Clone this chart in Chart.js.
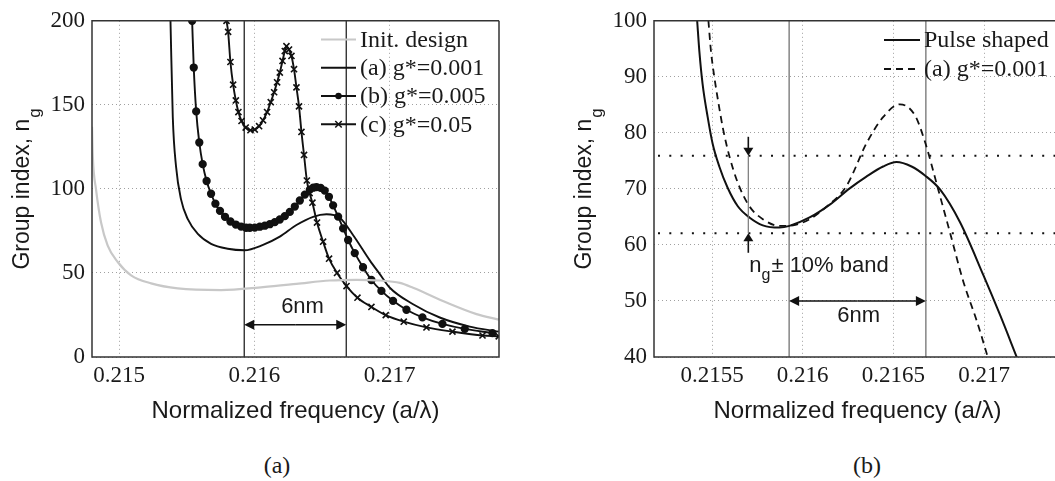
<!DOCTYPE html>
<html>
<head>
<meta charset="utf-8">
<script src="https://cdn.jsdelivr.net/npm/chart.js@4/dist/chart.umd.min.js"></script>
<style>
html, body { margin: 0; padding: 0; background: #fff; overflow: hidden; width: 1055px; height: 481px; }
canvas { position: absolute; top: 0; }
#chartA { left: 0; }
#chartB { left: 560px; }
.cap { position: absolute; top: 452px; width: 60px; line-height: 30px; text-align: center;
       font: 24px 'Liberation Serif', 'Times New Roman', serif; color: #1a1a1a; }
</style>
</head>
<body>
<canvas id="chartA" width="510" height="430"></canvas>
<canvas id="chartB" width="501" height="430"></canvas>
<div class="cap" style="left:247px">(a)</div>
<div class="cap" style="left:837px">(b)</div>
<script>
// ---- panel (a) ----
const xTicksA = [0.215, 0.216, 0.217];
const yTicksA = [0, 50, 100, 150, 200];

const initX = [0.2148, 0.214806, 0.21483, 0.214867, 0.214916, 0.21499, 0.215089, 0.215237, 0.215434, 0.215754,
               0.216064, 0.216311, 0.216557, 0.216755, 0.216927, 0.217075, 0.217173, 0.21742, 0.217642, 0.217806];
const initY = [136.9, 119.2, 99.6, 80.0, 66.3, 56.5, 48.6, 43.8, 40.8, 39.8,
               41.6, 43.5, 45.5, 45.9, 45.5, 44.1, 41.2, 32.4, 25.5, 22.2];

const g001X = [0.21538, 0.215397, 0.215421, 0.215458, 0.215508, 0.215582, 0.21568, 0.215803, 0.215927, 0.216064,
               0.216188, 0.216311, 0.216434, 0.216533, 0.216631, 0.216729, 0.216853, 0.21693, 0.217001, 0.217173,
               0.21737, 0.217592, 0.217806];
const g001Y = [200, 142.8, 113.4, 93.8, 82.0, 73.2, 67.3, 64.4, 63.5, 66.7,
               71.6, 78.5, 83.4, 84.9, 82.8, 72.6, 57.5, 49.0, 41.2, 31.4,
               23.5, 18.1, 15.1];

const g005X = [0.21554, 0.215552, 0.21557, 0.215593, 0.215618, 0.215647, 0.21568, 0.215712, 0.215746, 0.215783,
               0.215823, 0.215863, 0.215902, 0.215939, 0.215966, 0.216003, 0.21604, 0.216077, 0.216114, 0.216151,
               0.216188, 0.216225, 0.216262, 0.216299, 0.216336, 0.216373, 0.21641, 0.216435, 0.216459, 0.21649,
               0.21652, 0.216551, 0.216582, 0.216619, 0.216656, 0.216693, 0.216742, 0.216803, 0.216865, 0.216939,
               0.217025, 0.217124, 0.217242, 0.21739, 0.217555, 0.21776];
const g005Y = [200, 172.2, 146.1, 127.6, 114.7, 104.7, 97.1, 91.2, 86.9, 83.4,
               80.6, 78.8, 77.6, 76.9, 76.9, 77.0, 77.5, 78.1, 79.0, 80.2,
               81.8, 83.8, 86.3, 89.5, 93.1, 96.6, 99.6, 100.7, 101.1, 100.6,
               99.0, 95.3, 90.2, 83.5, 76.5, 69.6, 61.8, 53.4, 45.8, 39.3,
               33.4, 28.1, 23.6, 19.7, 16.7, 14.2];

const g05X = [0.215794, 0.215806, 0.215823, 0.215843, 0.215863, 0.215882, 0.215905, 0.215936, 0.215971, 0.216003,
              0.216035, 0.216064, 0.216094, 0.216121, 0.216146, 0.216168, 0.216188, 0.216208, 0.216225, 0.216237,
              0.216256, 0.216274, 0.216293, 0.216311, 0.21633, 0.216348, 0.216367, 0.216388, 0.216408, 0.216429,
              0.216463, 0.216508, 0.216552, 0.216611, 0.216681, 0.216762, 0.216865, 0.216971, 0.217104, 0.217272,
              0.217464, 0.217686, 0.217806];
const g05Y = [200, 193.4, 175.5, 162.0, 152.6, 145.7, 140.4, 136.5, 134.9, 135.3,
              137.3, 140.8, 145.7, 151.6, 157.5, 163.4, 169.2, 176.1, 182.0, 184.9,
              182.9, 179.1, 171.2, 160.4, 149.1, 133.9, 120.2, 105.0, 97.5, 91.8,
              80.0, 68.6, 58.5, 50.0, 42.2, 35.3, 29.8, 24.9, 21.0, 17.6,
              15.1, 12.8, 12.3];

// ---- panel (b) ----
const xTicksB = [0.2155, 0.216, 0.2165, 0.217];
const yTicksB = [40, 50, 60, 70, 80, 90, 100];

const pulseX = [0.215418, 0.21543, 0.215448, 0.215476, 0.215503, 0.21554, 0.215586, 0.215642, 0.215706, 0.21578,
                0.215872, 0.215927, 0.216038, 0.216149, 0.216259, 0.216351, 0.216443, 0.216517, 0.2166, 0.216674,
                0.216757, 0.216868, 0.216996, 0.217088, 0.217181];
const pulseY = [100, 94.6, 88.7, 82.8, 78.1, 74.0, 70.2, 66.9, 64.9, 63.5,
                63.1, 63.4, 64.9, 67.2, 70.1, 72.2, 74.0, 74.8, 74.0, 72.4,
                69.9, 64.0, 54.6, 47.5, 39.9];

const dashX = [0.21548, 0.215494, 0.215513, 0.215536, 0.215562, 0.215596, 0.215642, 0.215706, 0.21578, 0.215872,
               0.215946, 0.216038, 0.21613, 0.216241, 0.216351, 0.216443, 0.216536, 0.216619, 0.216674, 0.216747,
               0.216812, 0.216886, 0.21696, 0.217024];
const dashY = [100, 94.6, 89.9, 85.2, 80.5, 75.8, 71.1, 66.9, 64.6, 63.4,
               63.5, 64.6, 66.8, 70.5, 78.1, 82.8, 85.1, 83.1, 78.4, 69.9,
               62.2, 53.4, 46.4, 39.6];

// annotations
const bandEdges = [0.215925, 0.216679];   // 6nm window
const widthArrowY = [19.2, 50];           // y of the 6nm arrow in (a), (b)
const widthLabel = [[0.216356, 29.5], [0.216309, 47.4]];
const ngBand = [62.1, 75.9];              // n_g +/- 10%
const ngArrowX = 0.2157;
const ngArrowEnds = [79.3, 58.6];

const SERIF = "'Liberation Serif', 'Times New Roman', serif";
const SANS = "'Liberation Sans', Arial, sans-serif";
const INK = '#1a1a1a';

const pts = (xs, ys) => xs.map((x, i) => ({ x: x, y: ys[i] }));

function arrow(ctx, x1, y1, x2, y2, len, half) {
    const ang = Math.atan2(y2 - y1, x2 - x1);
    ctx.beginPath();
    ctx.moveTo(x1, y1);
    ctx.lineTo(x2 - Math.cos(ang) * len * 0.8, y2 - Math.sin(ang) * len * 0.8);
    ctx.stroke();
    ctx.beginPath();
    ctx.moveTo(x2, y2);
    ctx.lineTo(x2 - Math.cos(ang) * len - Math.sin(ang) * half, y2 - Math.sin(ang) * len + Math.cos(ang) * half);
    ctx.lineTo(x2 - Math.cos(ang) * len + Math.sin(ang) * half, y2 - Math.sin(ang) * len - Math.cos(ang) * half);
    ctx.closePath();
    ctx.fill();
}

function marker(ctx, style, x, y, r) {
    ctx.beginPath();
    if (style === 'circle') {
        ctx.arc(x, y, r, 0, Math.PI * 2);
        ctx.fill();
    } else if (style === 'crossRot') {
        const d = r * 0.75;
        ctx.moveTo(x - d, y - d); ctx.lineTo(x + d, y + d);
        ctx.moveTo(x + d, y - d); ctx.lineTo(x - d, y + d);
        ctx.stroke();
    }
}

// y title with a subscript g, rotated
function yTitle(ctx, xBase, yMid) {
    ctx.save();
    ctx.translate(xBase, yMid);
    ctx.rotate(-Math.PI / 2);
    ctx.fillStyle = INK;
    ctx.textBaseline = 'alphabetic';
    ctx.textAlign = 'left';
    const main = 'Group index, n';
    ctx.font = '23px ' + SANS;
    const wMain = ctx.measureText(main).width;
    ctx.font = '17px ' + SANS;
    const wSub = ctx.measureText('g').width;
    const x0 = -(wMain + wSub + 1) / 2;
    ctx.font = '23px ' + SANS;
    ctx.fillText(main, x0, 0);
    ctx.font = '17px ' + SANS;
    ctx.fillText('g', x0 + wMain + 1, 11);
    ctx.restore();
}

function decor(o) {
    return {
        id: 'decor',
        beforeDatasetsDraw(chart) {
            const { ctx, chartArea: a, scales: { x, y } } = chart;
            ctx.save();
            ctx.strokeStyle = o.markColor;
            ctx.lineWidth = 1.2;
            bandEdges.forEach(v => {
                const px = x.getPixelForValue(v);
                ctx.beginPath(); ctx.moveTo(px, a.top); ctx.lineTo(px, a.bottom); ctx.stroke();
            });
            if (o.band) {
                ctx.strokeStyle = '#111';
                ctx.lineWidth = 2;
                ctx.setLineDash([2, 9.3]);
                ngBand.forEach(v => {
                    const py = y.getPixelForValue(v);
                    ctx.beginPath(); ctx.moveTo(a.left + 4, py); ctx.lineTo(a.right, py); ctx.stroke();
                });
                ctx.setLineDash([]);
            }
            ctx.restore();
        },
        afterDatasetsDraw(chart) {
            const { ctx, chartArea: a, scales: { x, y } } = chart;
            ctx.save();
            ctx.strokeStyle = '#111';
            ctx.fillStyle = '#111';
            ctx.lineWidth = 1.6;

            // 6nm double arrow
            const ay = y.getPixelForValue(widthArrowY[o.idx]);
            const xl = x.getPixelForValue(bandEdges[0]), xr = x.getPixelForValue(bandEdges[1]);
            const mid = (xl + xr) / 2;
            arrow(ctx, mid, ay, xl, ay, 10, 5);
            arrow(ctx, mid, ay, xr, ay, 10, 5);
            ctx.font = '22px ' + SANS;
            ctx.fillStyle = INK;
            ctx.textAlign = 'center';
            ctx.textBaseline = 'middle';
            const lab = widthLabel[o.idx];
            ctx.fillText('6nm', x.getPixelForValue(lab[0]), y.getPixelForValue(lab[1]));

            // n_g +/- 10% band marker
            if (o.band) {
                const bx = x.getPixelForValue(ngArrowX);
                const top = y.getPixelForValue(ngBand[1]), bot = y.getPixelForValue(ngBand[0]);
                ctx.strokeStyle = '#777';
                ctx.lineWidth = 1.2;
                ctx.beginPath(); ctx.moveTo(bx, top); ctx.lineTo(bx, bot); ctx.stroke();
                ctx.strokeStyle = '#111';
                ctx.fillStyle = '#111';
                ctx.lineWidth = 1.6;
                arrow(ctx, bx, y.getPixelForValue(ngArrowEnds[0]), bx, top, 8, 5);
                arrow(ctx, bx, y.getPixelForValue(ngArrowEnds[1]), bx, bot, 8, 5);
                ctx.fillStyle = INK;
                ctx.textAlign = 'left';
                ctx.textBaseline = 'alphabetic';
                const base = bot + 38.5;
                let tx = bx + 1;
                ctx.font = '22px ' + SANS;
                ctx.fillText('n', tx, base);
                tx += ctx.measureText('n').width;
                ctx.font = '16px ' + SANS;
                ctx.fillText('g', tx, base + 8.5);
                tx += ctx.measureText('g').width + 1;
                ctx.font = '22px ' + SANS;
                ctx.fillText('\u00b1 10% band', tx, base);
            }

            // legend
            ctx.textAlign = 'left';
            ctx.textBaseline = 'middle';
            ctx.font = '24px ' + SERIF;
            chart.data.datasets.forEach((ds, i) => {
                const ly = o.legend.rows[i];
                ctx.strokeStyle = ds.borderColor;
                ctx.lineWidth = ds.borderWidth;
                ctx.setLineDash(ds.borderDash || []);
                ctx.beginPath(); ctx.moveTo(o.legend.x1, ly); ctx.lineTo(o.legend.x2, ly); ctx.stroke();
                ctx.setLineDash([]);
                if (ds.pointRadius > 0) {
                    ctx.fillStyle = ds.borderColor;
                    ctx.lineWidth = 1.5;
                    marker(ctx, ds.pointStyle, (o.legend.x1 + o.legend.x2) / 2, ly, ds.pointRadius);
                }
                ctx.fillStyle = INK;
                ctx.fillText(ds.label, o.legend.tx, ly + 1);
            });

            // axes box
            ctx.strokeStyle = '#333';
            ctx.lineWidth = 1.5;
            ctx.beginPath();
            ctx.moveTo(a.right, a.top); ctx.lineTo(a.left, a.top); ctx.lineTo(a.left, a.bottom); ctx.lineTo(a.right, a.bottom);
            if (o.closeRight) ctx.lineTo(a.right, a.top);
            ctx.stroke();

            yTitle(ctx, o.titleX, (a.top + a.bottom) / 2);
            ctx.restore();
        }
    };
}

function axisX(min, max, ticks) {
    return {
        type: 'linear', min: min, max: max,
        afterBuildTicks: s => { s.ticks = ticks.map(v => ({ value: v })); },
        afterFit: s => { s.height = 73; },
        grid: { color: '#a0a0a0', lineWidth: 1, drawTicks: false },
        border: { display: false, dash: [1, 3] },
        ticks: { padding: 5, color: INK, font: { family: SERIF, size: 23 }, maxRotation: 0,
                 callback: v => String(+v.toFixed(4)) },
        title: { display: true, text: 'Normalized frequency (a/\u03bb)', color: INK,
                 font: { family: SANS, size: 24 }, padding: { top: 0, bottom: 4 } }
    };
}

function axisY(min, max, ticks, width) {
    return {
        min: min, max: max,
        afterBuildTicks: s => { s.ticks = ticks.map(v => ({ value: v })); },
        afterFit: s => { s.width = width; },
        grid: { color: '#a0a0a0', lineWidth: 1, drawTicks: false },
        border: { display: false, dash: [1, 3] },
        ticks: { padding: 7, color: INK, font: { family: SERIF, size: 23 } }
    };
}

const line = (label, data, color, width, extra) => Object.assign({
    label: label, data: data, borderColor: color, backgroundColor: color, borderWidth: width,
    pointRadius: 0, cubicInterpolationMode: 'monotone', fill: false
}, extra || {});

new Chart(document.getElementById('chartA'), {
    type: 'line',
    data: {
        datasets: [
            line('Init. design', pts(initX, initY), '#c8c8c8', 2.2),
            line('(a) g*=0.001', pts(g001X, g001Y), '#111', 1.9),
            line('(b) g*=0.005', pts(g005X, g005Y), '#111', 1.9, { pointRadius: 3.2, pointStyle: 'circle' }),
            line('(c) g*=0.05', pts(g05X, g05Y), '#111', 1.9, { pointRadius: 4.3, pointStyle: 'crossRot', pointBorderWidth: 1.6 })
        ]
    },
    options: {
        responsive: false, animation: false, events: [],
        layout: { padding: { top: 17, right: 11, left: 0, bottom: 0 } },
        scales: { x: axisX(0.2148, 0.217808, xTicksA), y: axisY(0, 200, yTicksA, 92) },
        plugins: { legend: { display: false }, tooltip: { enabled: false } }
    },
    plugins: [decor({ idx: 0, markColor: '#111', band: false, closeRight: true, titleX: 29,
                      legend: { x1: 321, x2: 356, tx: 360, rows: [39.5, 67.8, 96, 124.3] } })]
});

new Chart(document.getElementById('chartB'), {
    type: 'line',
    data: {
        datasets: [
            line('Pulse shaped', pts(pulseX, pulseY), '#111', 2),
            line('(a) g*=0.001', pts(dashX, dashY), '#111', 1.8, { borderDash: [7, 5] })
        ]
    },
    options: {
        responsive: false, animation: false, events: [],
        layout: { padding: { top: 17, right: 0, left: 0, bottom: 0 } },
        scales: { x: axisX(0.21518, 0.217424, xTicksB), y: axisY(40, 100, yTicksB, 94) },
        plugins: { legend: { display: false }, tooltip: { enabled: false } }
    },
    plugins: [decor({ idx: 1, markColor: '#666', band: true, closeRight: false, titleX: 31,
                      legend: { x1: 324, x2: 360, tx: 364, rows: [40, 69] } })]
});
</script>
</body>
</html>
